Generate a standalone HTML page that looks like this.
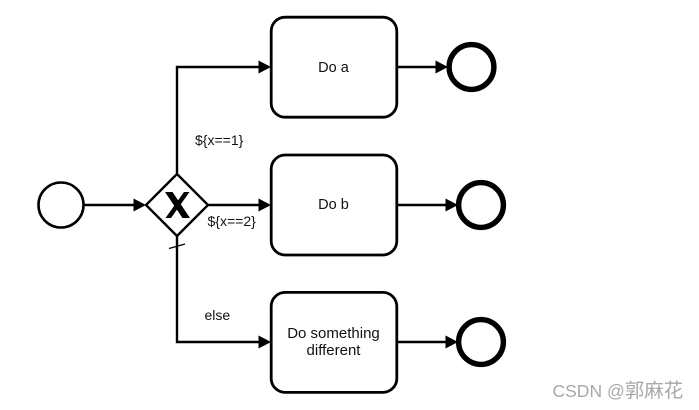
<!DOCTYPE html>
<html>
<head>
<meta charset="utf-8">
<style>
html,body{margin:0;padding:0;background:#fff;}
svg{display:block;}
text{font-family:"Liberation Sans","Noto Sans CJK SC",sans-serif;font-size:14px;fill:#111;}
</style>
</head>
<body>
<svg width="699" height="410" viewBox="0 0 699 410" xmlns="http://www.w3.org/2000/svg">
<rect width="699" height="410" fill="#fff"/>
<g fill="none" stroke="#000" stroke-width="2.4">
  <path d="M84 205H136"/>
  <path d="M177 173V67H260"/>
  <path d="M208 205H260"/>
  <path d="M177 236V342H260"/>
  <path d="M397 67H436"/>
  <path d="M397 205H446"/>
  <path d="M397 342H446"/>
  <path d="M169 248.500L185 244" stroke-width="1.2"/>
  <circle cx="61" cy="205" r="22.5" stroke-width="2.6"/>
  <path d="M177 174L208 205L177 236L146 205Z" stroke-width="2.4"/>
  <rect x="271.2" y="17.2" width="125.6" height="100" rx="14" stroke-width="2.8"/>
  <rect x="271.2" y="155" width="125.6" height="100" rx="14" stroke-width="2.8"/>
  <rect x="271.2" y="292.4" width="125.6" height="100" rx="14" stroke-width="2.8"/>
  <circle cx="471.5" cy="67" r="22.4" stroke-width="5.4"/>
  <circle cx="481" cy="205" r="22.4" stroke-width="5.4"/>
  <circle cx="481" cy="342" r="22.4" stroke-width="5.4"/>
</g>
<g fill="#000">
  <path d="M258.500 60.500L271 67L258.500 73.500Z"/>
  <path d="M258.500 198.500L271 205L258.500 211.500Z"/>
  <path d="M258.500 335.500L271 342L258.500 348.500Z"/>
  <path d="M133.500 198.500L146 205L133.500 211.500Z"/>
  <path d="M435.500 60.500L448 67L435.500 73.500Z"/>
  <path d="M445.500 198.500L458 205L445.500 211.500Z"/>
  <path d="M445.500 335.500L458 342L445.500 348.500Z"/>
  <path d="M165 192H172.500L190 218H182.500Z"/>
  <path d="M184 192H189.500L171 218H165.500Z"/>
</g>
<text x="195" y="145">${x==1}</text>
<text x="207.500" y="226">${x==2}</text>
<text x="204.500" y="320">else</text>
<text x="333.500" y="72" text-anchor="middle" style="font-size:14.5px">Do a</text>
<text x="333.500" y="209" text-anchor="middle" style="font-size:14.5px">Do b</text>
<text x="333.500" y="338" text-anchor="middle" style="font-size:15px">Do something</text>
<text x="333.500" y="355" text-anchor="middle" style="font-size:15px">different</text>
<text x="552.500" y="397" style="font-size:17.500px;fill:#a8a8a8;">CSDN @<tspan style="font-size:19.500px">郭麻花</tspan></text>
</svg>
</body>
</html>
